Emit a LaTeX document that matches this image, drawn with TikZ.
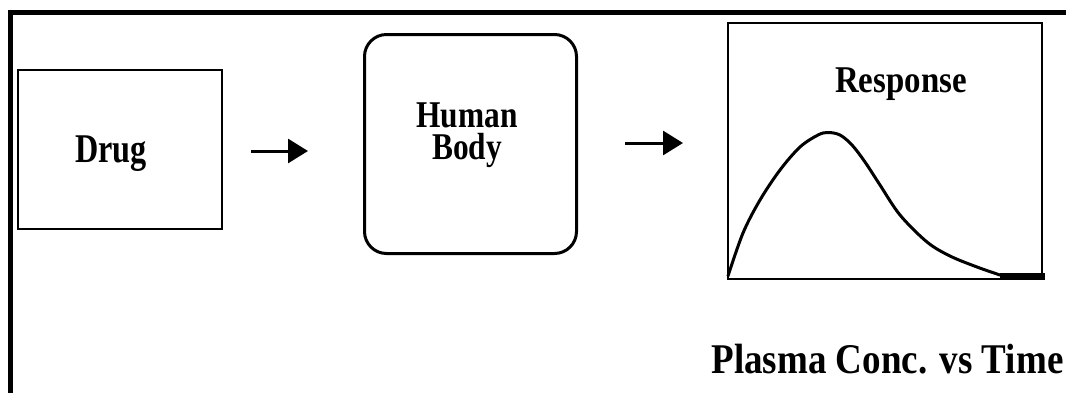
\documentclass[tikz,border=0pt]{standalone}
\usepackage{fontspec}
\setmainfont{Liberation Serif}
\usetikzlibrary{arrows.meta}
% horizontally condensed text
\newcommand{\squeezetext}[2]{\scalebox{#1}[1]{#2}}
\tikzset{
  frame/.style={line width=5pt},
  box/.style={draw, line width=2pt, inner sep=0pt},
  roundbox/.style={draw, line width=3pt, inner sep=0pt, rounded corners=22pt},
  caption/.style={font=\bfseries, anchor=base, inner sep=0pt},
  flow/.style={-{Triangle[length=20pt,width=24pt]}, line width=3pt},
  curve/.style={line width=3pt, line join=round, line cap=round}
}
\begin{document}
\begin{tikzpicture}[x=1pt,y=-1pt]
\useasboundingbox (0,0) rectangle (1066,392);
\fill[white] (0,0) rectangle (1066,392);
\clip (0,0) rectangle (1066,392);

% outer frame (runs off the right and bottom edges)
\draw[frame] (10.5,12.5) rectangle (1090,420);

% boxes
\node[box, minimum width=204pt, minimum height=159pt] (drug) at (120,149.5) {};
\node[roundbox, minimum width=212pt, minimum height=219pt] (body) at (470.5,144) {};
\node[box, minimum width=314pt, minimum height=256pt] (resp) at (885,151) {};

% labels
\node[caption, font=\bfseries\fontsize{40.8pt}{44pt}\selectfont] (drugtext) at (111,162) {\squeezetext{0.79}{Drug}};
\node[caption, anchor=north, align=center, font=\bfseries\fontsize{37.8pt}{32pt}\selectfont]
  (bodytext) at (467,103) {\squeezetext{0.83}{Human}\\\squeezetext{0.83}{Body}};
\node[caption, font=\bfseries\fontsize{37.8pt}{40pt}\selectfont] (resptext) at (901,92) {\squeezetext{0.87}{Response}};
\node[caption, font=\bfseries\fontsize{42.3pt}{46pt}\selectfont] (plottitle) at (887.5,373) {\squeezetext{0.875}{Plasma Conc. vs Time}};

% flow arrows in the gaps between the boxes
\coordinate (a1s) at (251,151);
\coordinate (a1e) at (308,151);
\coordinate (a2s) at (625,143);
\coordinate (a2e) at (683,143);
\draw[flow] (a1s) -- (a1e);
\draw[flow] (a2s) -- (a2e);

% concentration-time curve
\draw[curve] plot[smooth, tension=0.55] coordinates {
  (728,276) (743,233) (760,200) (780,170) (800,147) (818,135) (828,132.5)
  (840,135) (852,145) (865,162) (880,185) (900,215) (927,242) (950,256)
  (977,267) (1000,275)};
\draw[line width=7pt] (1000,276.5) -- (1045,276.5);
\end{tikzpicture}
\end{document}
